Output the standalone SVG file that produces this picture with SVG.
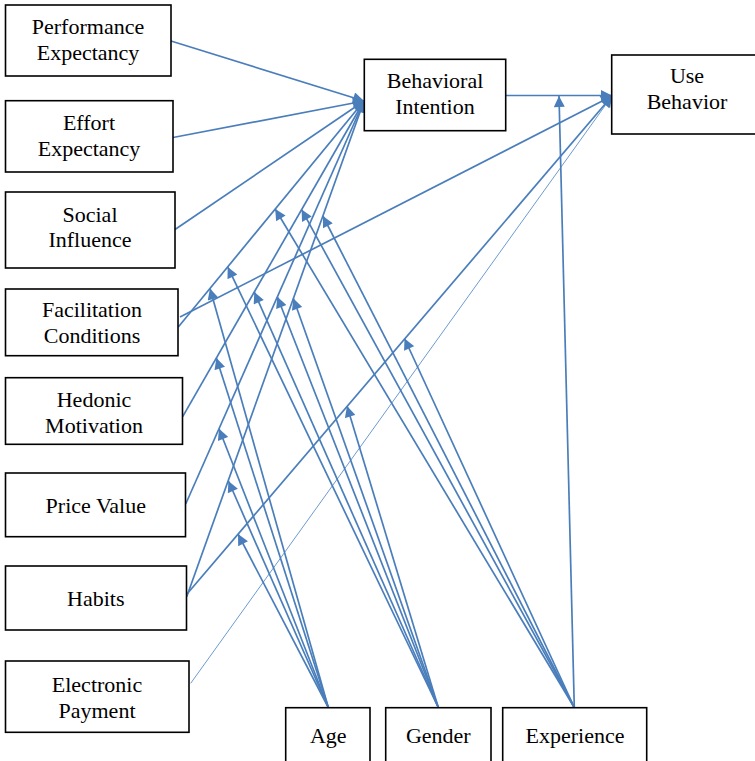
<svg xmlns="http://www.w3.org/2000/svg" width="755" height="761" viewBox="0 0 755 761">
<style>
.box{fill:#fff;stroke:#000;stroke-width:1.6}
.t{font-family:"Liberation Serif","Times New Roman",serif;font-size:22px;fill:#000;text-anchor:middle}
.c{stroke:#4a7ebb;stroke-width:1.7;fill:none;marker-end:url(#ah)}
.thin{stroke:#5b8fcc;stroke-width:0.9;fill:none;marker-end:url(#ah)}
</style>
<defs>
<marker id="ah" viewBox="0 0 10 10" refX="10" refY="5" markerWidth="12" markerHeight="11" markerUnits="userSpaceOnUse" orient="auto">
<path d="M0,0 L10,5 L0,10 z" fill="#4a7ebb"/>
</marker>
</defs>
<g id="connectors">
<line class="c" x1="171" y1="41" x2="364" y2="101"/>
<line class="c" x1="173" y1="137.5" x2="364" y2="101"/>
<line class="c" x1="175" y1="229.5" x2="364" y2="101"/>
<line class="c" x1="178.3" y1="327" x2="364" y2="101"/>
<line class="c" x1="182.7" y1="416.7" x2="364" y2="101"/>
<line class="c" x1="185.7" y1="504" x2="364" y2="101"/>
<line class="c" x1="186.7" y1="596.7" x2="364" y2="101"/>
<line class="c" x1="180" y1="317" x2="612" y2="96"/>
<line class="c" x1="187" y1="594" x2="612" y2="96"/>
<line class="thin" x1="190.7" y1="683.3" x2="612" y2="96"/>
<line class="c" x1="505.7" y1="95.5" x2="612" y2="95.5"/>
<line class="c" x1="328.3" y1="707.5" x2="210" y2="288.5"/>
<line class="c" x1="328.3" y1="707.5" x2="216.4" y2="358"/>
<line class="c" x1="328.3" y1="707.5" x2="219" y2="428.7"/>
<line class="c" x1="328.3" y1="707.5" x2="228.4" y2="481"/>
<line class="c" x1="328.3" y1="707.5" x2="238" y2="534"/>
<line class="c" x1="438.3" y1="707.5" x2="227.7" y2="266.9"/>
<line class="c" x1="438.3" y1="707.5" x2="254.3" y2="292.1"/>
<line class="c" x1="438.3" y1="707.5" x2="277.3" y2="296.8"/>
<line class="c" x1="438.3" y1="707.5" x2="293.4" y2="298.5"/>
<line class="c" x1="438.3" y1="707.5" x2="347" y2="406"/>
<line class="c" x1="574.3" y1="707.5" x2="275.2" y2="209"/>
<line class="c" x1="574.3" y1="707.5" x2="301.6" y2="209.6"/>
<line class="c" x1="574.3" y1="707.5" x2="322.9" y2="216"/>
<line class="c" x1="574.3" y1="707.5" x2="404.5" y2="338.5"/>
<line class="c" x1="574.3" y1="707.5" x2="559" y2="96"/>
</g>
<g id="pe"><rect class="box" x="5.5" y="5" width="165.5" height="71"/><text class="t" x="88" y="33.5">Performance</text><text class="t" x="88" y="59.5">Expectancy</text></g>
<g id="ee"><rect class="box" x="5.5" y="100.7" width="167.5" height="71.3"/><text class="t" x="89" y="129.5">Effort</text><text class="t" x="89" y="156">Expectancy</text></g>
<g id="si"><rect class="box" x="5.5" y="192" width="169.5" height="76"/><text class="t" x="90" y="221.7">Social</text><text class="t" x="90" y="247.3">Influence</text></g>
<g id="fc"><rect class="box" x="5.5" y="289" width="172.5" height="66.7"/><text class="t" x="92" y="317.3">Facilitation</text><text class="t" x="92" y="343.3">Conditions</text></g>
<g id="hm"><rect class="box" x="5.5" y="377.7" width="177" height="66.6"/><text class="t" x="94" y="406.7">Hedonic</text><text class="t" x="94" y="432.7">Motivation</text></g>
<g id="pv"><rect class="box" x="5.5" y="473" width="180" height="63.7"/><text class="t" x="95.8" y="512.7">Price Value</text></g>
<g id="ht"><rect class="box" x="5.5" y="566" width="181" height="64"/><text class="t" x="95.8" y="606">Habits</text></g>
<g id="ep"><rect class="box" x="5.5" y="661" width="183.5" height="71.3"/><text class="t" x="97" y="692.3">Electronic</text><text class="t" x="97" y="717.7">Payment</text></g>
<g id="bi"><rect class="box" x="364.3" y="59.3" width="141.4" height="71.4"/><text class="t" x="435" y="88">Behavioral</text><text class="t" x="435" y="114">Intention</text></g>
<g id="ub"><rect class="box" x="611.7" y="55" width="150" height="79"/><text class="t" x="687" y="83.3">Use</text><text class="t" x="687" y="109.3">Behavior</text></g>
<g id="age"><rect class="box" x="285.7" y="707.7" width="84.3" height="72"/><text class="t" x="328.3" y="743">Age</text></g>
<g id="gender"><rect class="box" x="385.7" y="707.7" width="105.3" height="72"/><text class="t" x="438.3" y="743">Gender</text></g>
<g id="experience"><rect class="box" x="502.7" y="707.7" width="144" height="72"/><text class="t" x="575" y="743">Experience</text></g>
</svg>
